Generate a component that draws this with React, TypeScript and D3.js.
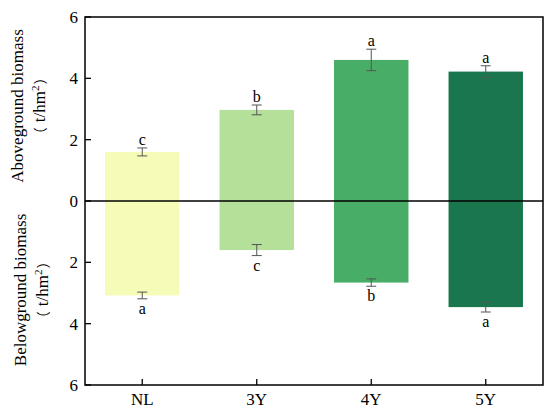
import * as d3 from 'd3';

const groups = ['NL', '3Y', '4Y', '5Y'];
const above = [1.6, 2.97, 4.6, 4.22];
const aboveErr = [0.13, 0.16, 0.35, 0.19];
const aboveSig = ['c', 'b', 'a', 'a'];
const below = [3.08, 1.6, 2.66, 3.46];
const belowErr = [0.11, 0.18, 0.12, 0.16];
const belowSig = ['a', 'c', 'b', 'a'];
const colors = ['#f6fbb8', '#b4e09a', '#48ad67', '#1a774d'];
const yTicks = [-6, -4, -2, 0, 2, 4, 6];

const W = 550;
const H = 412;
const margin = { top: 17, right: 7, bottom: 27, left: 85 };
const serif = '"Liberation Serif", "Times New Roman", serif';
const cjk = '"Noto Sans CJK SC", sans-serif';

function Unit({ y }: { y: number }) {
  return (
    <text y={y} textAnchor="middle" fontSize={17}>
      <tspan fontFamily={cjk} fontSize={14}>（</tspan>
      <tspan dx={5}>t/hm</tspan>
      <tspan dy={-6} fontSize={11}>2</tspan>
      <tspan dy={6} dx={1} fontFamily={cjk} fontSize={14}>）</tspan>
    </text>
  );
}

export default function App() {
  const x = d3.scaleBand()
    .domain(groups)
    .range([margin.left, W - margin.right])
    .paddingInner(0.35)
    .paddingOuter(0.175);
  const y = d3.scaleLinear()
    .domain([-6, 6])
    .range([H - margin.bottom, margin.top]);
  const bw = x.bandwidth();
  const cap = 5;

  return (
    <svg width={W} height={H} style={{ position: 'absolute', left: 0, top: 0, background: '#fff' }}
      fontFamily={serif}>
      {/* bars */}
      {groups.map((g, i) => (
        <g key={g}>
          <rect x={x(g)} y={y(above[i])} width={bw} height={y(0) - y(above[i])} fill={colors[i]} />
          <rect x={x(g)} y={y(0)} width={bw} height={y(-below[i]) - y(0)} fill={colors[i]} />
        </g>
      ))}
      {/* error bars + letters */}
      {groups.map((g, i) => {
        const cx = (x(g) || 0) + bw / 2;
        const t1 = y(above[i] + aboveErr[i]);
        const b1 = y(above[i] - aboveErr[i]);
        const t2 = y(-below[i] + belowErr[i]);
        const b2 = y(-below[i] - belowErr[i]);
        return (
          <g key={g + 'e'} stroke="#555" strokeWidth={1}>
            <line x1={cx} x2={cx} y1={t1} y2={b1} />
            <line x1={cx - cap} x2={cx + cap} y1={t1} y2={t1} />
            <line x1={cx - cap} x2={cx + cap} y1={b1} y2={b1} />
            <line x1={cx} x2={cx} y1={t2} y2={b2} />
            <line x1={cx - cap} x2={cx + cap} y1={t2} y2={t2} />
            <line x1={cx - cap} x2={cx + cap} y1={b2} y2={b2} />
            <text x={cx} y={t1 - 3} textAnchor="middle" fontSize={16} fill="#000" stroke="none">{aboveSig[i]}</text>
            <text x={cx} y={b2 + 15} textAnchor="middle" fontSize={16} fill="#000" stroke="none">{belowSig[i]}</text>
          </g>
        );
      })}
      {/* zero line */}
      <line x1={margin.left} x2={W - margin.right} y1={y(0)} y2={y(0)} stroke="#000" strokeWidth={1.3} />
      {/* frame */}
      <rect x={margin.left} y={margin.top} width={W - margin.left - margin.right}
        height={H - margin.top - margin.bottom} fill="none" stroke="#000" strokeWidth={1.5} />
      {/* y ticks */}
      {yTicks.map(t => (
        <g key={t}>
          <line x1={margin.left} x2={margin.left + 6} y1={y(t)} y2={y(t)} stroke="#000" strokeWidth={1.3} />
          <text x={margin.left - 7} y={y(t)} dy="0.35em" textAnchor="end" fontSize={17}>{Math.abs(t)}</text>
        </g>
      ))}
      {/* x ticks */}
      {groups.map(g => {
        const cx = (x(g) || 0) + bw / 2;
        return (
          <g key={g + 't'}>
            <line x1={cx} x2={cx} y1={H - margin.bottom} y2={H - margin.bottom - 6} stroke="#000" strokeWidth={1.3} />
            <text x={cx} y={405} textAnchor="middle" fontSize={17}>{g}</text>
          </g>
        );
      })}
      {/* axis titles */}
      <g transform={`translate(23,${y(3.1)}) rotate(-90)`}>
        <text textAnchor="middle" fontSize={17}>Aboveground biomass</text>
        <Unit y={22} />
      </g>
      <g transform={`translate(26,${y(-2.9)}) rotate(-90)`}>
        <text textAnchor="middle" fontSize={17}>Belowground biomass</text>
        <Unit y={22} />
      </g>
    </svg>
  );
}
